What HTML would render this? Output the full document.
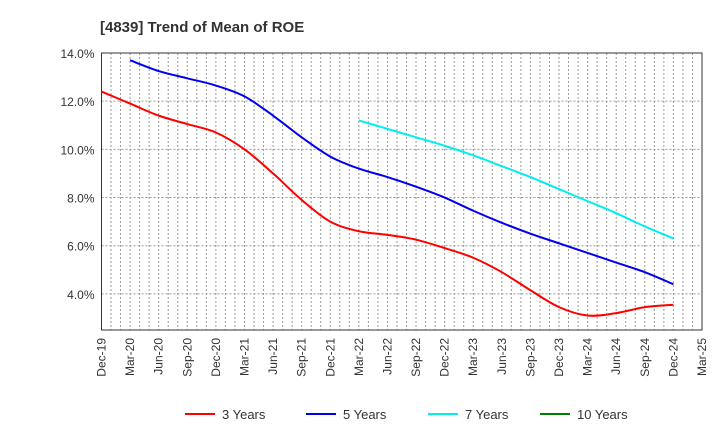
<!DOCTYPE html>
<html><head><meta charset="utf-8"><style>
body{margin:0;background:#fff;font-family:"Liberation Sans",Arial,sans-serif}
svg text{font-family:"Liberation Sans",Arial,sans-serif}
</style></head><body>
<svg id="chart" width="720" height="440" xmlns="http://www.w3.org/2000/svg">
<text x="100" y="32" font-size="15" font-weight="bold" fill="#333">[4839]  Trend of Mean of ROE</text>
<g id="grid"></g><g id="axes"></g><g id="series"></g><g id="legend"></g>
</svg>
<script>
const xLabels=["Dec-19","Mar-20","Jun-20","Sep-20","Dec-20","Mar-21","Jun-21","Sep-21","Dec-21","Mar-22","Jun-22","Sep-22","Dec-22","Mar-23","Jun-23","Sep-23","Dec-23","Mar-24","Jun-24","Sep-24","Dec-24","Mar-25"];
const yTicks=[4,6,8,10,12,14];
const s3=[12.4,11.9,11.4,11.05,10.7,10.0,9.0,7.9,7.0,6.6,6.45,6.25,5.9,5.5,4.9,4.15,3.45,3.1,3.2,3.45,3.55];
const s5=[13.7,13.25,12.95,12.65,12.2,11.4,10.5,9.7,9.2,8.85,8.45,8.0,7.45,6.95,6.5,6.1,5.7,5.3,4.9,4.4];
const s7=[11.2,10.85,10.5,10.15,9.75,9.3,8.85,8.35,7.85,7.35,6.8,6.3];
const s10=[];
const seriesNames=["3 Years","5 Years","7 Years","10 Years"];
const seriesStart=[0,1,9,21];
const colors=["#ff0000","#0000ee","#00eeee","#008000"];
const L=101.5,R=702,T=53,B=330,yMin=2.5,yMax=14;
const NS="http://www.w3.org/2000/svg";
const X=q=>L+(R-L)*(q*3)/63;
const Xm=m=>L+(R-L)*m/63;
const Y=v=>B-(v-yMin)/(yMax-yMin)*(B-T);
function mk(t,a,p){const e=document.createElementNS(NS,t);for(const k in a)e.setAttribute(k,a[k]);p.appendChild(e);return e;}
const grid=document.getElementById('grid'),axes=document.getElementById('axes');
for(let m=1;m<63;m++){const l=mk('line',{x1:Xm(m),x2:Xm(m),y1:T,y2:B,stroke:'#999','stroke-dasharray':'2,2','stroke-width':1},grid);

}
yTicks.forEach(v=>{const l=mk('line',{x1:L,x2:R,y1:Y(v),y2:Y(v),stroke:'#999','stroke-dasharray':'2,2'},grid);


const t=mk('text',{x:L-7,y:Y(v)+5,'font-size':12,'text-anchor':'end',fill:'#333'},axes);t.textContent=v.toFixed(1)+'%';

});
const fr=mk('rect',{x:L,y:T,width:R-L,height:B-T,fill:'none',stroke:'#333','stroke-width':1},axes);


xLabels.forEach((s,i)=>{const x=X(i);const t=mk('text',{x:0,y:0,'font-size':12,'text-anchor':'end',fill:'#333',transform:`translate(${x+4},${B+8}) rotate(-90)`},axes);t.textContent=s;

});
function path(pts){let d=`M${pts[0][0]},${pts[0][1]}`;for(let i=0;i<pts.length-1;i++){const p0=pts[i-1]||pts[i],p1=pts[i],p2=pts[i+1],p3=pts[i+2]||p2;
d+=` C${p1[0]+(p2[0]-p0[0])/6},${p1[1]+(p2[1]-p0[1])/6} ${p2[0]-(p3[0]-p1[0])/6},${p2[1]-(p3[1]-p1[1])/6} ${p2[0]},${p2[1]}`;}return d;}
const ser=document.getElementById('series');
[s3,s5,s7,s10].forEach((arr,k)=>{if(arr.length<2)return;const pts=arr.map((v,i)=>[X(seriesStart[k]+i),Y(v)]);
const p=mk('path',{d:path(pts),fill:'none',stroke:colors[k],'stroke-width':2},ser);

});
const lg=document.getElementById('legend');const lx=[185,306,428,540];
seriesNames.forEach((n,k)=>{const g=mk('g',{},lg);


mk('line',{x1:lx[k],x2:lx[k]+30,y1:414,y2:414,stroke:colors[k],'stroke-width':2},g);
const t=mk('text',{x:lx[k]+37,y:419,'font-size':13,fill:'#333'},g);t.textContent=n;});
</script>
</body></html>
